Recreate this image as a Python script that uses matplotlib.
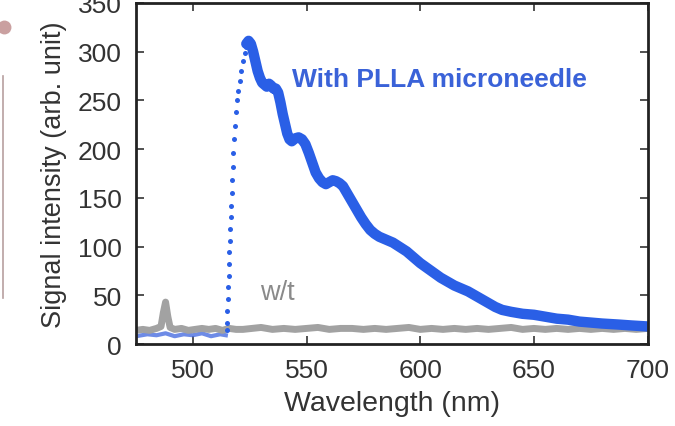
import numpy as np
import matplotlib.pyplot as plt
from matplotlib.lines import Line2D

plt.rcParams['font.family'] = ['Liberation Sans', 'DejaVu Sans']

# blue spectrum (with PLLA microneedle), baseline before the rise
blue_base_wl = [475, 480, 484, 488, 492, 496, 500, 504, 508, 512, 514.5]
blue_base_val = [8, 10, 9, 11, 8, 10, 9, 11, 8, 10, 9]

# steep rise, shown as separate dots
blue_rise_wl = [514.8, 515.0, 515.2, 515.4, 515.6, 515.8, 516.0, 516.1, 516.3, 516.4,
                516.6, 516.8, 517.0, 517.2, 517.5, 517.7, 518.1, 518.5, 519.0, 519.5,
                520.0, 520.6, 521.3, 522.0, 522.8, 523.5]
blue_rise_val = [14, 22, 34, 46, 58, 70, 82, 94, 106, 118,
                 130, 142, 155, 168, 182, 196, 210, 224, 238, 250,
                 260, 270, 280, 290, 299, 305]

# decay after the peak
blue_wl = [523.5, 524.5, 525.5, 526.5, 527.5, 528.5, 529.5, 530.5, 531.5, 532.5,
           533.5, 534.5, 535.5, 536.5, 537.5, 538.5, 539.5, 540.5, 541.5, 542.5,
           543.5, 545, 546.5, 548, 549.5, 551, 552.5, 554, 555.5, 557,
           558.5, 560, 561.5, 563, 564.5, 566, 567.5, 569, 570.5, 572,
           574, 576, 578, 580, 582, 584, 586, 588, 590, 592,
           594, 596, 598, 600, 603, 606, 609, 612, 615, 618,
           621, 624, 627, 630, 633, 636, 640, 645, 650, 655,
           660, 665, 670, 675, 680, 687, 693, 700]
blue_val = [308, 311, 308, 300, 290, 280, 273, 268, 266, 264,
            267, 265, 262, 262, 258, 248, 236, 226, 216, 210,
            208, 211, 212, 210, 205, 196, 186, 176, 170, 166,
            164, 166, 168, 167, 165, 162, 156, 150, 144, 138,
            130, 123, 117, 113, 110, 108, 106, 104, 101, 98,
            95, 91, 87, 83, 78, 73, 68, 64, 60, 57,
            54, 50, 46, 42, 38, 35, 33, 31, 30, 28,
            26, 25, 23, 22, 21, 20, 19, 18]

# gray spectrum (without microneedle)
gray_wl = [475, 478, 481, 484, 486, 487, 488, 489, 490, 492,
           495, 498, 501, 504, 507, 510, 513, 516, 519, 522,
           526, 530, 535, 540, 545, 550, 555, 560, 565, 570,
           575, 580, 585, 590, 595, 600, 605, 610, 615, 620,
           625, 630, 635, 640, 645, 650, 655, 660, 665, 670,
           675, 680, 685, 690, 695, 700]
gray_val = [14, 15, 14, 16, 18, 32, 43, 28, 17, 15,
            16, 14, 15, 16, 15, 16, 14, 16, 15, 15,
            16, 17, 15, 16, 15, 16, 17, 15, 16, 16,
            15, 16, 15, 16, 17, 15, 16, 15, 16, 15,
            16, 15, 16, 17, 15, 16, 15, 16, 15, 16,
            15, 16, 15, 16, 15, 16]

blue = '#2a5fe6'
gray = '#a2a2a2'

fig = plt.figure(figsize=(6.75, 4.27), dpi=100)
ax = fig.add_axes([0.2015, 0.192, 0.758, 0.799])

ax.plot(blue_base_wl, blue_base_val, color='#4a6ee0', lw=3, alpha=0.8)
ax.plot(gray_wl, gray_val, color=gray, lw=5, solid_joinstyle='round')
ax.plot(blue_rise_wl, blue_rise_val, 'o', color=blue, ms=3.6, mec='none')
ax.plot(blue_wl, blue_val, color=blue, lw=7.5, solid_joinstyle='round',
        solid_capstyle='round')

ax.text(608.5, 272, 'With PLLA microneedle', color='#3a62d8', fontsize=19,
        fontweight='bold', ha='center', va='center')
ax.text(537.3, 53, 'w/t', color='#8a8a8a', fontsize=19.5, ha='center', va='center')

ax.set_xlim(475, 700)
ax.set_ylim(0, 350)
ax.set_xticks([500, 550, 600, 650, 700])
ax.set_yticks([0, 50, 100, 150, 200, 250, 300, 350])
ax.tick_params(direction='in', top=True, right=True, labelsize=19,
               length=6, width=1.2, colors='#333333', labelcolor='#333333', pad=10)
for s in ax.spines.values():
    s.set_linewidth(2)
    s.set_color('#222222')
ax.set_xlabel('Wavelength (nm)', fontsize=20.5, color='#333333', labelpad=6)
ax.set_ylabel('Signal intensity (arb. unit)', fontsize=19.5, color='#333333', labelpad=8)

# remnants of the neighbouring panel at the left edge
fig.add_artist(Line2D([0.004, 0.004], [0.30, 0.82], color='#b8a0a0', lw=1.2))
fig.add_artist(Line2D([0.006], [0.934], marker='o', ms=10, color='#caa0a0', mec='none'))

fig.savefig('out.png', dpi=100)
